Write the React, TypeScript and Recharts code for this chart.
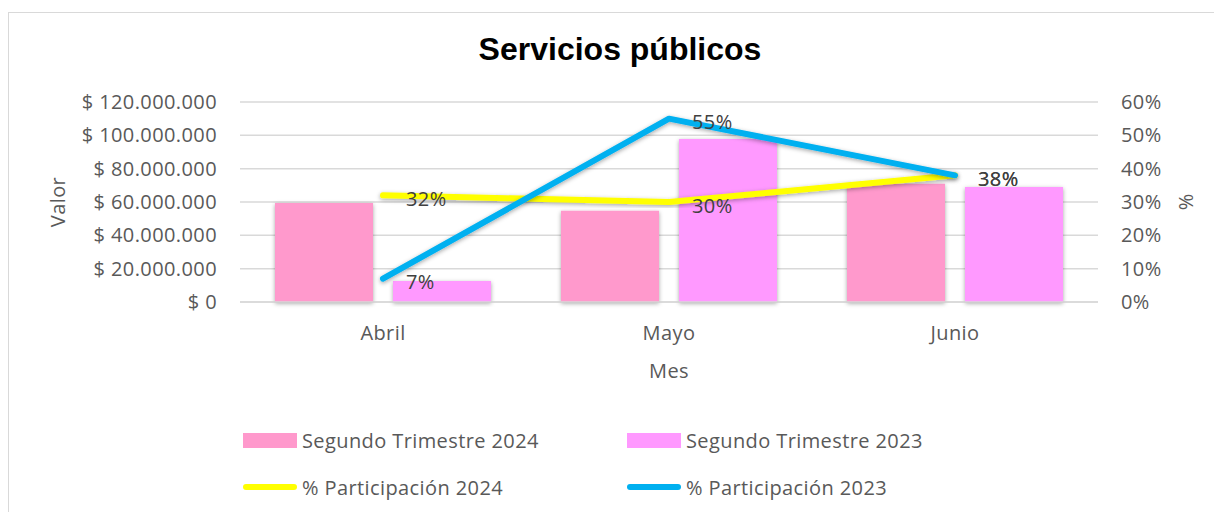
import {
  ComposedChart,
  Bar,
  Line,
  XAxis,
  YAxis,
  CartesianGrid,
  Legend,
  Label,
  LabelList,
} from "recharts";

const meses = ["Abril", "Mayo", "Junio"];
const valor2024 = [59400000, 54800000, 71000000];
const valor2023 = [12600000, 97800000, 69000000];
const participacion2024 = [0.32, 0.3, 0.38];
const participacion2023 = [0.07, 0.55, 0.38];
const valorTicks = [0, 20000000, 40000000, 60000000, 80000000, 100000000, 120000000];
const pctTicks = [0, 0.1, 0.2, 0.3, 0.4, 0.5, 0.6];

const data = meses.map((mes, i) => ({
  mes,
  v2024: valor2024[i],
  v2023: valor2023[i],
  p2024: participacion2024[i],
  p2023: participacion2023[i],
}));

const FONT = "'Open Sans', sans-serif";
const GRAY = "#595959";

const legendItems = [
  { label: "Segundo Trimestre 2024", color: "#FF99CC", kind: "rect" },
  { label: "Segundo Trimestre 2023", color: "#FF99FF", kind: "rect" },
  { label: "% Participación 2024", color: "#FFFF00", kind: "line" },
  { label: "% Participación 2023", color: "#00B0F0", kind: "line" },
];

const fmtValor = (v: number) =>
  v === 0 ? "$ 0" : "$ " + String(v).replace(/\B(?=(\d{3})+(?!\d))/g, ".");
const fmtPct = (v: number) => `${Math.round(v * 100)}%`;

const tickStyle = { fill: GRAY, fontSize: 20, fontFamily: FONT, letterSpacing: 0.4 };

function PctLabel(props: any) {
  const x = props.x ?? props.viewBox?.x;
  const y = props.y ?? props.viewBox?.y;
  return (
    <text
      x={x + 23}
      y={y + 3}
      fill="#404040"
      fontSize={20}
      fontFamily={FONT}
      letterSpacing={0.4}
      dominantBaseline="central"
    >
      {fmtPct(props.value)}
    </text>
  );
}

function renderLegend() {
  return (
    <div style={{ position: "relative", width: 760, height: 90, fontFamily: FONT }}>
      {legendItems.map((item, i) => {
        const col = i % 2;
        const row = Math.floor(i / 2);
        return (
          <div
            key={item.label}
            style={{
              position: "absolute",
              left: col * 384,
              top: 27 + row * 47 - 17,
              height: 34,
              display: "flex",
              alignItems: "center",
              whiteSpace: "nowrap",
            }}
          >
            {item.kind === "rect" ? (
              <span style={{ width: 54, height: 15, background: item.color, marginRight: 5 }} />
            ) : (
              <span
                style={{ width: 54, height: 6, borderRadius: 3, background: item.color, marginRight: 5 }}
              />
            )}
            <span style={{ color: GRAY, fontSize: 20, letterSpacing: 0.4 }}>{item.label}</span>
          </div>
        );
      })}
    </div>
  );
}

export default function App() {
  return (
    <div style={{ paddingTop: 4 }}>
      <style>{"html, body { overflow: hidden; }"}</style>
      <div
        style={{
          position: "relative",
          width: 1240,
          height: 505,
          borderTop: "1px solid #d9d9d9",
          borderLeft: "1px solid #d9d9d9",
        }}
      >
        <div
          style={{
            position: "absolute",
            left: 311,
            top: 20,
            width: 600,
            textAlign: "center",
            fontFamily: "'Liberation Sans', Arial, sans-serif",
            fontWeight: "bold",
            fontSize: 32,
            lineHeight: "32px",
            color: "#000",
            zIndex: 2,
          }}
        >
          Servicios públicos
        </div>
        <ComposedChart
          width={1213}
          height={490}
          data={data}
          margin={{ top: 89, right: 0, bottom: 0, left: 0 }}
          barCategoryGap={35}
          barGap={20}
        >
          <defs>
            <filter id="sombra" x="-20%" y="-20%" width="140%" height="140%">
              <feDropShadow dx="0" dy="1.5" stdDeviation="2" floodColor="#000" floodOpacity="0.35" />
            </filter>
          </defs>
          <CartesianGrid yAxisId="left" vertical={false} stroke="#d9d9d9" strokeWidth={1.5} />
          <XAxis
            dataKey="mes"
            height={111}
            axisLine={{ stroke: "#d9d9d9", strokeWidth: 1.5 }}
            tickLine={false}
            tickSize={0}
            tickMargin={24}
            tick={tickStyle}
          >
            <Label
              content={(p: any) => (
                <text
                  x={p.viewBox.x + p.viewBox.width / 2}
                  y={p.viewBox.y + 76}
                  textAnchor="middle"
                  fill={GRAY}
                  fontSize={20}
                  fontFamily={FONT}
                  letterSpacing={0.4}
                >
                  Mes
                </text>
              )}
            />
          </XAxis>
          <YAxis
            yAxisId="left"
            width={231}
            domain={[0, 120000000]}
            ticks={valorTicks}
            tickFormatter={fmtValor}
            axisLine={false}
            tickLine={false}
            tickSize={0}
            tickMargin={23}
            tick={tickStyle}
          >
            <Label
              content={(p: any) => (
                <text
                  x={48}
                  y={p.viewBox.y + p.viewBox.height / 2}
                  textAnchor="middle"
                  dominantBaseline="central"
                  transform={`rotate(-90 48 ${p.viewBox.y + p.viewBox.height / 2})`}
                  fill={GRAY}
                  fontSize={20}
                  fontFamily={FONT}
                  letterSpacing={0.4}
                >
                  Valor
                </text>
              )}
            />
          </YAxis>
          <YAxis
            yAxisId="right"
            orientation="right"
            width={124}
            domain={[0, 0.6]}
            ticks={pctTicks}
            tickFormatter={fmtPct}
            axisLine={false}
            tickLine={false}
            tickSize={0}
            tickMargin={23}
            tick={tickStyle}
          >
            <Label
              content={(p: any) => (
                <text
                  x={p.viewBox.x + 87}
                  y={p.viewBox.y + p.viewBox.height / 2}
                  textAnchor="middle"
                  dominantBaseline="central"
                  transform={`rotate(-90 ${p.viewBox.x + 87} ${p.viewBox.y + p.viewBox.height / 2})`}
                  fill={GRAY}
                  fontSize={20}
                  fontFamily={FONT}
                >
                  %
                </text>
              )}
            />
          </YAxis>
          <Legend verticalAlign="bottom" align="left" height={90} wrapperStyle={{ left: 234 }} content={renderLegend} />
          <Bar
            yAxisId="left"
            dataKey="v2024"
            name="Segundo Trimestre 2024"
            fill="#FF99CC"
            filter="url(#sombra)"
            isAnimationActive={false}
          />
          <Bar
            yAxisId="left"
            dataKey="v2023"
            name="Segundo Trimestre 2023"
            fill="#FF99FF"
            filter="url(#sombra)"
            isAnimationActive={false}
          />
          <Line
            yAxisId="right"
            dataKey="p2024"
            name="% Participación 2024"
            type="linear"
            stroke="#FFFF00"
            strokeWidth={6}
            strokeLinecap="round"
            strokeLinejoin="round"
            dot={false}
            activeDot={false}
            filter="url(#sombra)"
            isAnimationActive={false}
          >
            <LabelList dataKey="p2024" content={PctLabel} />
          </Line>
          <Line
            yAxisId="right"
            dataKey="p2023"
            name="% Participación 2023"
            type="linear"
            stroke="#00B0F0"
            strokeWidth={6}
            strokeLinecap="round"
            strokeLinejoin="round"
            dot={false}
            activeDot={false}
            filter="url(#sombra)"
            isAnimationActive={false}
          >
            <LabelList dataKey="p2023" content={PctLabel} />
          </Line>
        </ComposedChart>
      </div>
    </div>
  );
}
